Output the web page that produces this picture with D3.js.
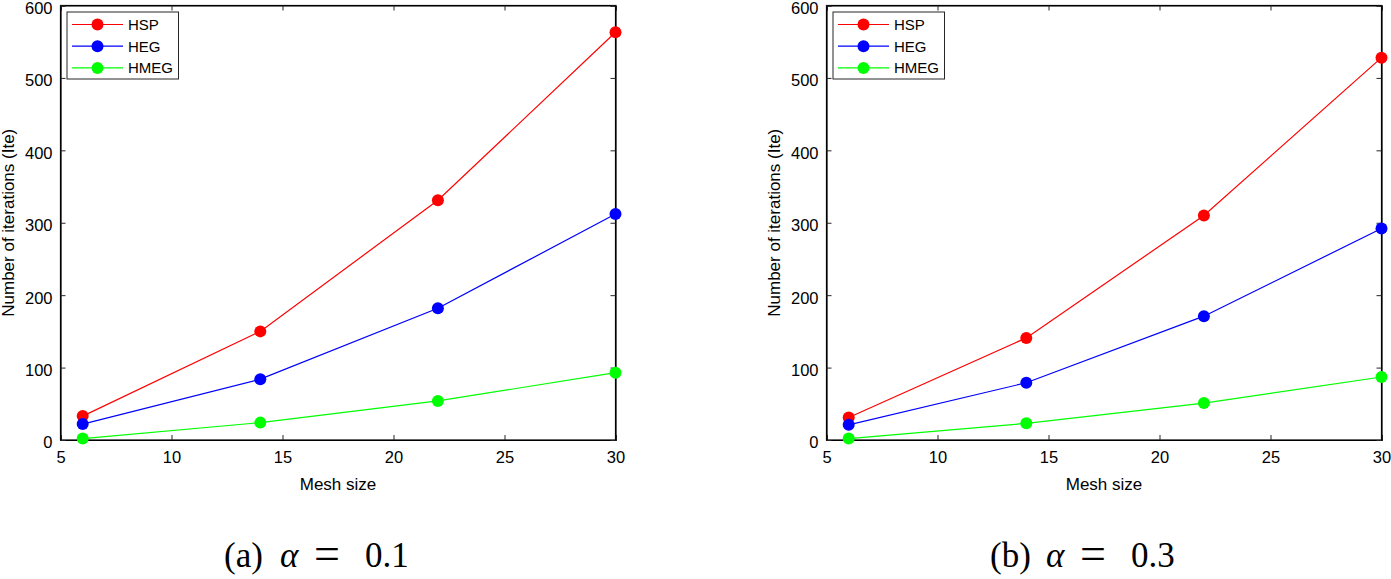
<!DOCTYPE html>
<html><head><meta charset="utf-8">
<script src="https://cdn.jsdelivr.net/npm/d3@7"></script>
<style>
body{margin:0;background:#fff;}
svg text{font-family:"Liberation Sans",Arial,sans-serif;}
</style></head>
<body><svg id="c" width="1391" height="579"></svg>
<script>
const meshSizes = [6, 14, 22, 30];
const seriesNames = ["HSP", "HEG", "HMEG"];
const seriesColors = ["#ff0000", "#0000ff", "#00ff00"];
// alpha = 0.1
const hspA = [33, 150, 331, 563];
const hegA = [22, 84, 182, 312];
const hmegA = [2, 24, 54, 93];
// alpha = 0.3
const hspB = [31, 141, 310, 528];
const hegB = [21, 79, 171, 292];
const hmegB = [2, 23, 51, 87];
const xTicks = [5, 10, 15, 20, 25, 30];
const yTicks = [0, 100, 200, 300, 400, 500, 600];
const captionsLabel = ["(a)", "(b)"];
const captionsValue = ["0.1", "0.3"];

const svg = d3.select("#c");

function panel(left, series, capLabel, capVal) {
  const W = 555, top = 5.5, bottom = 440;
  const x = d3.scaleLinear().domain([5, 30]).range([left, left + W]);
  const y = d3.scaleLinear().domain([0, 600]).range([bottom, top]);
  const g = svg.append("g");
  g.append("rect").attr("x", left).attr("y", top).attr("width", W).attr("height", bottom - top)
    .attr("fill", "none").attr("stroke", "#000").attr("stroke-width", 1.2);
  g.append("g").attr("transform", `translate(0,${bottom})`)
    .call(d3.axisBottom(x).tickValues(xTicks).tickSize(-5).tickPadding(11));
  g.append("g").attr("transform", `translate(0,${top})`)
    .call(d3.axisTop(x).tickValues(xTicks).tickSize(-5).tickFormat(""));
  const ay = g.append("g").attr("transform", `translate(${left},0)`)
    .call(d3.axisLeft(y).tickValues(yTicks).tickSize(-5).tickPadding(8));
  g.append("g").attr("transform", `translate(${left + W},0)`)
    .call(d3.axisRight(y).tickValues(yTicks).tickSize(-5).tickFormat(""));
  g.selectAll(".domain").attr("stroke", "#000").attr("stroke-width", 1.2);
  g.selectAll(".tick line").attr("stroke", "#262626");
  g.selectAll(".tick text").attr("font-size", 16.5).attr("fill", "#000")
    .attr("font-family", "Liberation Sans, Arial, sans-serif");
  ay.selectAll(".tick text").attr("dy", "0.48em");
  g.append("text").attr("x", left + W / 2).attr("y", 490).attr("text-anchor", "middle")
    .attr("font-size", 17).text("Mesh size");
  g.append("text").attr("transform", `translate(${left - 47},${(top + bottom) / 2}) rotate(-90)`)
    .attr("text-anchor", "middle").attr("font-size", 17).text("Number of iterations (Ite)");
  const line = d3.line().x((d, i) => x(meshSizes[i])).y(d => y(d));
  series.forEach((s, k) => {
    g.append("path").datum(s).attr("d", line).attr("fill", "none")
      .attr("stroke", seriesColors[k]).attr("stroke-width", 1.2);
    g.selectAll(null).data(s).enter().append("circle")
      .attr("cx", (d, i) => x(meshSizes[i])).attr("cy", d => y(d)).attr("r", 6)
      .attr("fill", seriesColors[k]);
  });
  const lx = left + 6.5, ly = 12;
  g.append("rect").attr("x", lx).attr("y", ly).attr("width", 111.5).attr("height", 67)
    .attr("fill", "#fff").attr("stroke", "#262626").attr("stroke-width", 1);
  seriesNames.forEach((n, k) => {
    const yy = ly + 12.5 + k * 21.7;
    g.append("line").attr("x1", lx + 5).attr("x2", lx + 56).attr("y1", yy).attr("y2", yy)
      .attr("stroke", seriesColors[k]).attr("stroke-width", 1.2);
    g.append("circle").attr("cx", lx + 30.5).attr("cy", yy).attr("r", 6).attr("fill", seriesColors[k]);
    g.append("text").attr("x", lx + 61).attr("y", yy + 5.5).attr("font-size", 15).text(n);
  });
  const cx = left + W / 2;
  const cap = g.append("text").attr("y", 567).attr("font-size", 35)
    .style("font-family", "'Liberation Serif','DejaVu Serif',serif");
  cap.append("tspan").attr("x", cx - 114).text(capLabel);
  cap.append("tspan").attr("x", cx - 58).attr("font-style", "italic").text("α");
  cap.append("tspan").attr("x", cx - 24).attr("font-size", 46).attr("dy", 2).text("=");
  cap.append("tspan").attr("x", cx + 27).attr("dy", -2).text(capVal);
}

panel(60.5, [hspA, hegA, hmegA], captionsLabel[0], captionsValue[0]);
panel(826.5, [hspB, hegB, hmegB], captionsLabel[1], captionsValue[1]);
</script></body></html>
